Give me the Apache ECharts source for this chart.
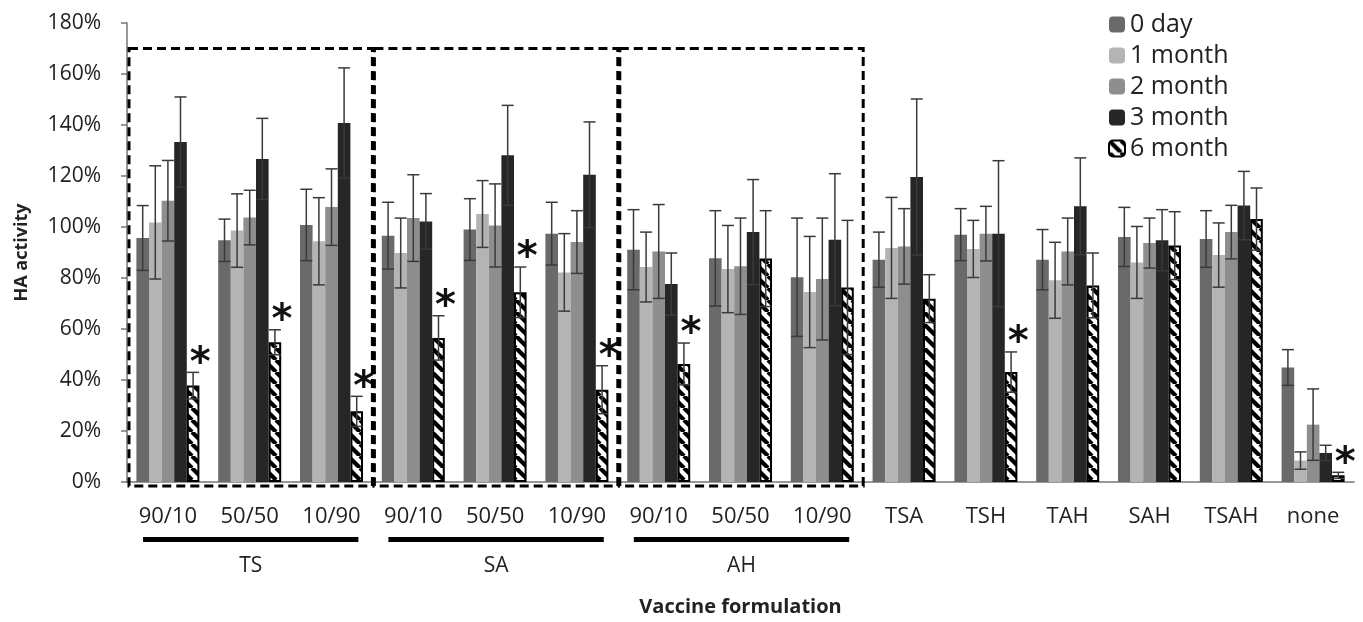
<!DOCTYPE html>
<html>
<head>
<meta charset="utf-8">
<title>HA activity</title>
<script src="https://cdn.jsdelivr.net/npm/echarts@6/dist/echarts.min.js"></script>
<style>
  html, body { margin: 0; padding: 0; background: #fff; }
  #main { width: 1363px; height: 622px; }
</style>
</head>
<body>
<div id="main"></div>
<script>
var categories = ['90/10', '50/50', '10/90', '90/10', '50/50', '10/90', '90/10', '50/50', '10/90',
                  'TSA', 'TSH', 'TAH', 'SAH', 'TSAH', 'none'];
var seriesNames = ['0 day', '1 month', '2 month', '3 month', '6 month'];

// mean HA activity (%)
var day0   = [95.7, 94.8, 100.8, 96.6, 99.0, 97.4, 91.1, 87.7, 80.3, 87.2, 97.0, 87.2, 96.1, 95.3, 44.9];
var month1 = [101.8, 98.6, 94.4, 89.8, 105.1, 82.2, 84.3, 83.5, 74.5, 91.8, 91.4, 79.1, 86.1, 89.0, 8.4];
var month2 = [110.3, 103.7, 107.8, 103.5, 100.6, 94.1, 90.4, 84.6, 79.6, 92.4, 97.4, 90.4, 93.7, 98.0, 22.5];
var month3 = [133.3, 126.7, 140.8, 102.2, 128.1, 120.5, 77.6, 98.0, 95.0, 119.6, 97.4, 108.1, 94.8, 108.4, 11.4];
var month6 = [37.8, 54.8, 27.7, 56.5, 74.4, 36.2, 46.3, 87.6, 76.3, 71.9, 43.1, 77.1, 92.7, 103.1, 2.6];

// error bars (+/-)
var err0 = [12.7, 8.3, 14.0, 13.1, 12.1, 12.3, 15.7, 18.7, 23.2, 10.8, 10.2, 11.8, 11.6, 11.1, 7.0];
var err1 = [22.2, 14.4, 17.1, 13.7, 13.1, 15.2, 13.7, 17.1, 21.8, 19.8, 11.2, 14.9, 14.1, 12.6, 3.4];
var err2 = [15.8, 10.7, 15.0, 17.0, 16.3, 12.3, 18.4, 18.9, 23.9, 14.8, 10.7, 13.1, 9.8, 10.5, 14.0];
var err3 = [17.7, 15.9, 21.6, 10.9, 19.6, 20.7, 12.2, 20.6, 25.9, 30.6, 28.6, 19.0, 12.0, 13.4, 3.0];
var err6 = [5.2, 4.9, 5.9, 8.7, 9.9, 9.4, 8.2, 18.8, 26.3, 9.4, 7.9, 12.7, 13.3, 12.2, 1.2];

// significant drop at 6 months (asterisk)
var sig6 = [1, 1, 1, 1, 1, 1, 1, 0, 0, 0, 1, 0, 0, 0, 1];

// grouped formulations (dashed boxes)
var groupNames = ['TS', 'SA', 'AH'];
var groupStart = [0, 3, 6];
var groupEnd = [2, 5, 8];
var boxTop = 170;

var yTicks = [0, 20, 40, 60, 80, 100, 120, 140, 160, 180];

var values = [day0, month1, month2, month3, month6];
var errors = [err0, err1, err2, err3, err6];
var colors = ['#6a6a6a', '#b4b4b4', '#8e8e8e', '#262626', '#ffffff'];
var FONT = '"Open Sans", "DejaVu Sans", sans-serif';
var barW = 12.6;

// hatch pattern for the 6 month bars
var hatch = document.createElement('canvas');
hatch.width = 12; hatch.height = 12;
var hc = hatch.getContext('2d');
hc.fillStyle = '#fff';
hc.fillRect(0, 0, 12, 12);
hc.strokeStyle = '#000';
hc.lineWidth = 4.2;
for (var i = -1; i <= 1; i++) {
  hc.beginPath();
  hc.moveTo(i * 12, 0);
  hc.lineTo(i * 12 + 12, 12);
  hc.stroke();
}

var myChart = echarts.init(document.getElementById('main'));

var barSeries = seriesNames.map(function (name, k) {
  var s = {
    name: name,
    type: 'bar',
    barWidth: barW,
    barGap: '0%',
    data: values[k],
    itemStyle: { color: colors[k] },
    z: 2
  };
  if (k === 4) {
    s.itemStyle = { color: { image: hatch, repeat: 'repeat' }, borderColor: '#000', borderWidth: 2 };
  }
  return s;
});

var errData = [];
values.forEach(function (arr, k) {
  arr.forEach(function (v, i) {
    errData.push([i, v, errors[k][i], k, k === 4 ? sig6[i] : 0]);
  });
});

var groupData = groupStart.map(function (s, i) { return [s, groupEnd[i]]; });

var option = {
  animation: false,
  textStyle: { fontFamily: FONT },
  grid: { left: 127, right: 9, top: 23, bottom: 140 },
  legend: {
    data: seriesNames,
    orient: 'vertical',
    left: 1103,
    top: 7,
    itemWidth: 16,
    itemHeight: 16,
    itemGap: 6,
    textStyle: { fontSize: 25, color: '#222', fontFamily: FONT }
  },
  xAxis: {
    type: 'category',
    data: categories,
    name: 'Vaccine formulation',
    nameLocation: 'middle',
    nameGap: 115,
    nameTextStyle: { fontSize: 20, fontWeight: 'bold', color: '#222' },
    axisLine: { lineStyle: { color: '#777', width: 1.5 } },
    axisTick: { length: 6, lineStyle: { color: '#777', width: 1.5 } },
    axisLabel: { fontSize: 22, color: '#222', margin: 24 }
  },
  yAxis: {
    type: 'value',
    min: yTicks[0],
    max: yTicks[yTicks.length - 1],
    interval: yTicks[1] - yTicks[0],
    name: 'HA activity',
    nameLocation: 'middle',
    nameGap: 96,
    nameTextStyle: { fontSize: 18, fontWeight: 'bold', color: '#222' },
    splitLine: { show: false },
    axisLine: { show: true, lineStyle: { color: '#777', width: 1.5 } },
    axisTick: { show: true, length: 6, lineStyle: { color: '#777', width: 1.5 } },
    axisLabel: { fontSize: 21, color: '#222', margin: 26, formatter: '{value}%' }
  },
  series: barSeries.concat([
    {
      name: 'errors',
      type: 'custom',
      z: 5,
      data: errData,
      encode: { x: 0, y: 1 },
      renderItem: function (params, api) {
        var i = api.value(0), v = api.value(1), e = api.value(2), k = api.value(3), sig = api.value(4);
        var base = api.coord([i, v]);
        var x = base[0] + (k - 2) * barW;
        var yHi = api.coord([i, v + e])[1];
        var yLo = api.coord([i, Math.max(v - e, 0)])[1];
        var st = { stroke: '#3a3a3a', lineWidth: 1.5 };
        var kids = [
          { type: 'line', shape: { x1: x, y1: yHi, x2: x, y2: yLo }, style: st },
          { type: 'line', shape: { x1: x - 6, y1: yHi, x2: x + 6, y2: yHi }, style: st },
          { type: 'line', shape: { x1: x - 6, y1: yLo, x2: x + 6, y2: yLo }, style: st }
        ];
        if (sig) {
          kids.push({
            type: 'text',
            style: {
              text: '*', x: x + 7, y: yHi - 8,
              font: 'bold 40px "DejaVu Sans", sans-serif',
              fill: '#111', align: 'center', verticalAlign: 'middle'
            }
          });
        }
        return { type: 'group', children: kids };
      }
    },
    {
      name: 'groups',
      type: 'custom',
      z: 6,
      data: groupData,
      encode: { x: [0, 1] },
      renderItem: function (params, api) {
        var s = api.value(0), e = api.value(1);
        var band = api.size([1, 0])[0];
        var left = api.coord([s, 0])[0] - band / 2;
        var right = api.coord([e, 0])[0] + band / 2;
        var y0 = api.coord([s, 0])[1];
        var top = api.coord([s, boxTop])[1];
        return {
          type: 'group',
          children: [
            { type: 'rect', shape: { x: left + 2, y: top, width: right - left - 2, height: y0 + 4 - top },
              style: { fill: 'none', stroke: '#000', lineWidth: 3, lineDash: [9, 5] } },
            { type: 'rect', shape: { x: left + 16, y: y0 + 55, width: right - left - 30, height: 5 },
              style: { fill: '#000' } },
            { type: 'text', style: { text: groupNames[params.dataIndex], x: (left + right) / 2 + 1, y: y0 + 84,
              font: '21px ' + FONT, fill: '#222', align: 'center', verticalAlign: 'middle' } }
          ]
        };
      }
    }
  ])
};
myChart.setOption(option);
</script>
</body>
</html>
